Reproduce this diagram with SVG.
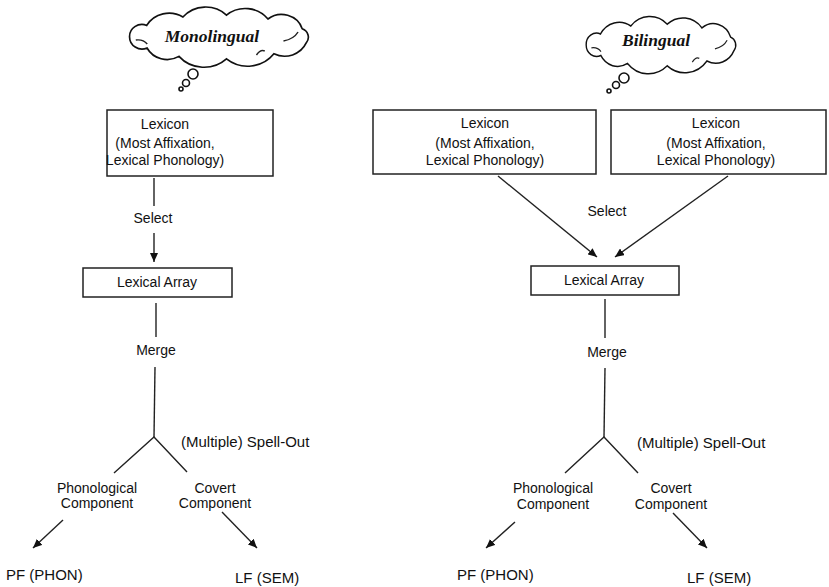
<svg xmlns="http://www.w3.org/2000/svg" xmlns:xlink="http://www.w3.org/1999/xlink" width="829" height="587" viewBox="0 0 829 587">
<style>
  .box { fill: #fff; stroke: #222; stroke-width: 1.5; }
  .ln { fill: none; stroke: #222; stroke-width: 1.4; }
  .cl { fill: #fff; stroke: #111; stroke-width: 1.6; }
  .t { font-family: "Liberation Sans", Arial, sans-serif; font-size: 14px; fill: #111; text-anchor: middle; }
  .ts { font-family: "Liberation Sans", Arial, sans-serif; font-size: 15px; fill: #111; }
  .tc { font-family: "Liberation Serif", "Times New Roman", serif; font-weight: bold; font-style: italic; font-size: 17.5px; fill: #111; text-anchor: middle; }
</style>
<defs>
  <marker id="ah" markerUnits="userSpaceOnUse" markerWidth="10" markerHeight="8" refX="9" refY="4" orient="auto">
    <path d="M0,0 L9,4 L0,8 Z" fill="#111"/>
  </marker>
  <path id="cloud" d="M-86,0 A12,12 0 0 1 -69.5,-11.6 A25,25 0 0 1 -34.7,-20 A29,29 0 0 1 7.2,-21.9 A28,28 0 0 1 47.1,-18 A21,21 0 0 1 80,-8.3 A9,9 0 0 1 84,5.7 A23,23 0 0 1 52.8,16.8 A32,32 0 0 1 7.2,21.9 A32,32 0 0 1 -38.5,19.4 A22,22 0 0 1 -69.2,11 A12,12 0 0 1 -86,0 Z"/>
  <path id="curls" d="M-80,3 q7,-1 11,4 M62,4 q10,-2 14,-9 M44,14 q-4,-2 -8,4"/>
</defs>

<g id="cloud-monolingual">
  <use xlink:href="#cloud" class="cl" vector-effect="non-scaling-stroke" transform="translate(219,37) scale(1.04,1)"/>
  <use xlink:href="#curls" class="ln" transform="translate(219,37) scale(1.04,1)"/>
  <circle cx="193" cy="74" r="5" class="cl" stroke-width="1.3"/>
  <circle cx="186" cy="83" r="3.5" class="cl" stroke-width="1.3"/>
  <circle cx="181" cy="89" r="2" class="cl" stroke-width="1.3"/>
  <text x="212" y="42" class="tc" font-size="18">Monolingual</text>
</g>

<g id="cloud-bilingual">
  <use xlink:href="#cloud" class="cl" vector-effect="non-scaling-stroke" transform="translate(661,45) scale(0.87,0.95)"/>
  <use xlink:href="#curls" class="ln" transform="translate(661,45) scale(0.87,0.95)"/>
  <circle cx="624" cy="78" r="5" class="cl" stroke-width="1.3"/>
  <circle cx="616" cy="85" r="3.5" class="cl" stroke-width="1.3"/>
  <circle cx="609" cy="91" r="2" class="cl" stroke-width="1.3"/>
  <text x="656" y="46" class="tc">Bilingual</text>
</g>

<!-- Left (monolingual) -->
<g id="mono-lexicon">
  <rect x="107" y="110" width="166" height="66" class="box"/>
  <text x="165" y="129" class="t" font-size="15">Lexicon</text>
  <text x="165" y="148" class="t">(Most Affixation,</text>
  <text x="165" y="165" class="t">Lexical Phonology)</text>
</g>
<g id="mono-array">
  <rect x="83" y="268" width="149" height="29" class="box"/>
  <text x="157" y="287" class="t">Lexical Array</text>
</g>
<g id="mono-labels">
  <text x="153" y="223" class="t">Select</text>
  <text x="156" y="355" class="t">Merge</text>
  <text x="181" y="447" class="ts">(Multiple) Spell-Out</text>
  <text x="97" y="493" class="t">Phonological</text>
  <text x="97" y="508" class="t">Component</text>
  <text x="215" y="493" class="t">Covert</text>
  <text x="215" y="508" class="t">Component</text>
  <text x="6" y="580" class="ts" font-size="14">PF (PHON)</text>
  <text x="235" y="583" class="ts" font-size="15.5">LF (SEM)</text>
</g>

<!-- Right (bilingual) -->
<g id="bi-lexicon-1">
  <rect x="373" y="110" width="223" height="64" class="box"/>
  <text x="485" y="128" class="t" font-size="15">Lexicon</text>
  <text x="485" y="148" class="t">(Most Affixation,</text>
  <text x="485" y="165" class="t">Lexical Phonology)</text>
</g>
<g id="bi-lexicon-2">
  <rect x="611" y="110" width="215" height="64" class="box"/>
  <text x="716" y="128" class="t" font-size="15">Lexicon</text>
  <text x="716" y="148" class="t">(Most Affixation,</text>
  <text x="716" y="165" class="t">Lexical Phonology)</text>
</g>
<g id="bi-array">
  <rect x="531" y="266" width="148" height="29" class="box"/>
  <text x="604" y="285" class="t">Lexical Array</text>
</g>
<g id="bi-labels">
  <text x="607" y="216" class="t">Select</text>
  <text x="607" y="357" class="t">Merge</text>
  <text x="637" y="448" class="ts">(Multiple) Spell-Out</text>
  <text x="553" y="493" class="t">Phonological</text>
  <text x="553" y="509" class="t">Component</text>
  <text x="671" y="493" class="t">Covert</text>
  <text x="671" y="509" class="t">Component</text>
  <text x="457" y="580" class="ts" font-size="14">PF (PHON)</text>
  <text x="687" y="583" class="ts" font-size="15.5">LF (SEM)</text>
</g>

<g id="connectors">
  <!-- left -->
  <line x1="154" y1="178" x2="154" y2="206" class="ln"/>
  <line x1="154" y1="233" x2="154" y2="262" class="ln" marker-end="url(#ah)"/>
  <line x1="156" y1="303" x2="156" y2="337" class="ln"/>
  <line x1="155" y1="367" x2="154" y2="437" class="ln"/>
  <polyline points="114,473 154,437 187,472" class="ln"/>
  <line x1="63" y1="520" x2="33" y2="548" class="ln" marker-end="url(#ah)"/>
  <line x1="222" y1="512" x2="257" y2="548" class="ln" marker-end="url(#ah)"/>
  <!-- right -->
  <line x1="498" y1="176" x2="597" y2="257" class="ln" marker-end="url(#ah)"/>
  <line x1="728" y1="176" x2="615" y2="257" class="ln" marker-end="url(#ah)"/>
  <line x1="605" y1="299" x2="605" y2="338" class="ln"/>
  <line x1="605" y1="368" x2="604" y2="437" class="ln"/>
  <polyline points="565,473 604,437 638,473" class="ln"/>
  <line x1="515" y1="522" x2="486" y2="548" class="ln" marker-end="url(#ah)"/>
  <line x1="673" y1="513" x2="707" y2="548" class="ln" marker-end="url(#ah)"/>
</g>
</svg>
